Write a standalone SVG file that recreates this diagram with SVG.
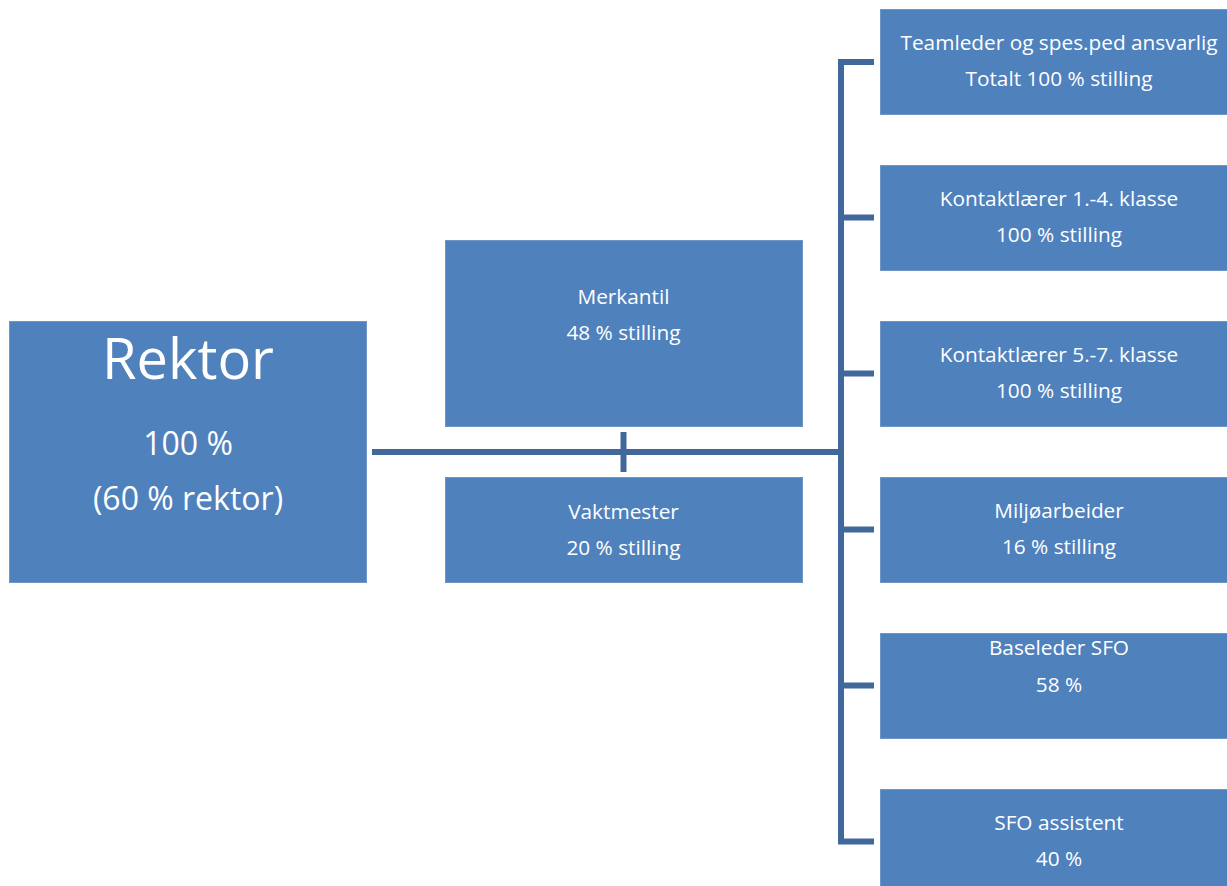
<svg xmlns="http://www.w3.org/2000/svg" width="1227" height="886" viewBox="0 0 1227 886">
<style>
.box{fill:#4F81BD;stroke:#7096C6;stroke-width:1}
.t{font-family:"Open Sans","Liberation Sans",sans-serif;fill:#fff;text-anchor:middle;font-size:20.8px}
.big{font-size:56px}
.mid{font-size:32px}
.con{stroke:#41689A;stroke-width:6;fill:none;stroke-linejoin:miter}
</style>
<rect width="1227" height="886" fill="#fff"/>
<g id="connectors">
<line class="con" x1="372" y1="452" x2="841" y2="452"/>
<line class="con" x1="623.5" y1="432" x2="623.5" y2="472"/>
<path class="con" d="M874 62 H841 V841.5 H874"/>
<line class="con" x1="841" y1="217.5" x2="874" y2="217.5"/>
<line class="con" x1="841" y1="373.5" x2="874" y2="373.5"/>
<line class="con" x1="841" y1="529.5" x2="874" y2="529.5"/>
<line class="con" x1="841" y1="685.5" x2="874" y2="685.5"/>
</g>
<g id="rektor">
<rect class="box" x="9.5" y="321.5" width="357" height="261"/>
<text class="t big" x="188" y="379">Rektor</text>
<text class="t mid" x="188" y="455">100 %</text>
<text class="t mid" x="188" y="510">(60 % rektor)</text>
</g>
<g id="merkantil">
<rect class="box" x="445.5" y="240.5" width="357" height="186"/>
<text class="t" x="623.5" y="304">Merkantil</text>
<text class="t" x="623.5" y="340">48 % stilling</text>
</g>
<g id="vaktmester">
<rect class="box" x="445.5" y="477.5" width="357" height="105"/>
<text class="t" x="623.5" y="519">Vaktmester</text>
<text class="t" x="623.5" y="555">20 % stilling</text>
</g>
<g id="teamleder">
<rect class="box" x="880.5" y="9.5" width="357" height="105"/>
<text class="t" x="1059" y="50">Teamleder og spes.ped ansvarlig</text>
<text class="t" x="1059" y="86">Totalt 100 % stilling</text>
</g>
<g id="kontakt14">
<rect class="box" x="880.5" y="165.5" width="357" height="105"/>
<text class="t" x="1059" y="206">Kontaktlærer 1.-4. klasse</text>
<text class="t" x="1059" y="242">100 % stilling</text>
</g>
<g id="kontakt57">
<rect class="box" x="880.5" y="321.5" width="357" height="105"/>
<text class="t" x="1059" y="362">Kontaktlærer 5.-7. klasse</text>
<text class="t" x="1059" y="398">100 % stilling</text>
</g>
<g id="miljo">
<rect class="box" x="880.5" y="477.5" width="357" height="105"/>
<text class="t" x="1059" y="518">Miljøarbeider</text>
<text class="t" x="1059" y="554">16 % stilling</text>
</g>
<g id="baseleder">
<rect class="box" x="880.5" y="633.5" width="357" height="105"/>
<text class="t" x="1059" y="655">Baseleder SFO</text>
<text class="t" x="1059" y="692">58 %</text>
</g>
<g id="sfo">
<rect class="box" x="880.5" y="789.5" width="357" height="105"/>
<text class="t" x="1059" y="830">SFO assistent</text>
<text class="t" x="1059" y="866">40 %</text>
</g>
</svg>
